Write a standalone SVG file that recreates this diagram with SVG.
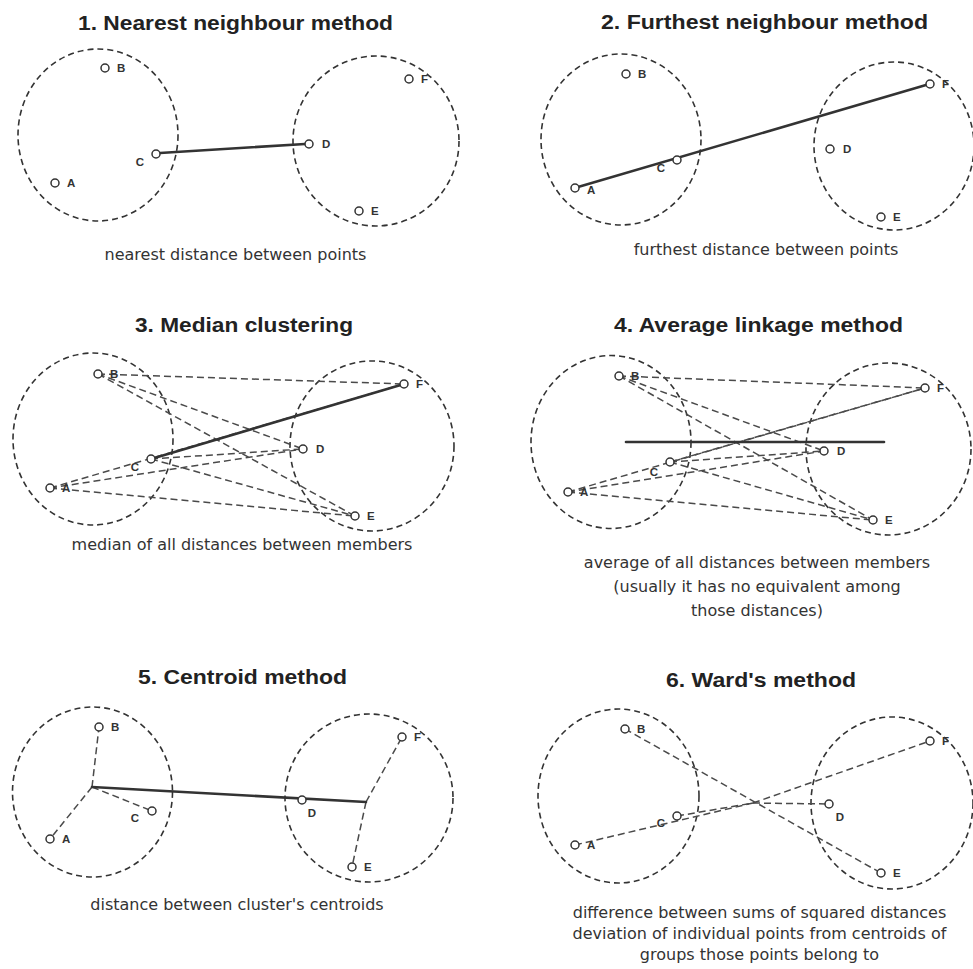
<svg xmlns="http://www.w3.org/2000/svg" width="973" height="969" viewBox="0 0 973 969">
<style>
.bg{fill:#ffffff}
.clu{fill:none;stroke:#333;stroke-width:1.6;stroke-dasharray:6 4}
.pt{fill:#fff;stroke:#333;stroke-width:1.5}
.lbl{font-family:"Liberation Sans",Arial,sans-serif;font-weight:bold;font-size:11.5px;fill:#333}
.solid{stroke:#333;stroke-width:2.6;fill:none;stroke-linecap:round}
.dash{stroke:#4a4a4a;stroke-width:1.5;fill:none;stroke-dasharray:7 4}
.title{font-family:"Liberation Sans",Arial,sans-serif;font-weight:bold;font-size:19.5px;fill:#222;text-anchor:middle}
.cap{font-family:"DejaVu Sans","Liberation Sans",sans-serif;font-size:16px;fill:#333;text-anchor:middle}
.mid{text-anchor:middle}
</style>
<rect class="bg" x="0" y="0" width="973" height="969"/>

<!-- Panel 1 -->
<g id="panel1">
<text class="title" x="235.5" y="30" textLength="315" lengthAdjust="spacingAndGlyphs">1. Nearest neighbour method</text>
<ellipse id="p1-cluster1" class="clu" cx="98" cy="135" rx="80" ry="86"/>
<ellipse id="p1-cluster2" class="clu" cx="376" cy="141" rx="83" ry="85"/>
<g id="p1-connectors">
<line class="solid" x1="160" y1="153" x2="305" y2="144"/>
</g>
<g id="p1-B"><circle class="pt" cx="105" cy="68" r="4"/><text class="lbl" x="117" y="72">B</text></g>
<g id="p1-F"><circle class="pt" cx="409" cy="79" r="4"/><text class="lbl" x="421" y="83">F</text></g>
<g id="p1-D"><circle class="pt" cx="309" cy="144" r="4"/><text class="lbl" x="322" y="148">D</text></g>
<g id="p1-C"><circle class="pt" cx="156" cy="154" r="4"/><text class="lbl mid" x="140" y="166">C</text></g>
<g id="p1-A"><circle class="pt" cx="55" cy="183" r="4"/><text class="lbl" x="67" y="187">A</text></g>
<g id="p1-E"><circle class="pt" cx="359" cy="211" r="4"/><text class="lbl" x="371" y="215">E</text></g>
<text class="cap" x="235.5" y="260">nearest distance between points</text>
</g>

<!-- Panel 2 -->
<g id="panel2">
<text class="title" x="764.5" y="29" textLength="327" lengthAdjust="spacingAndGlyphs">2. Furthest neighbour method</text>
<ellipse id="p2-cluster1" class="clu" cx="621" cy="139.5" rx="80" ry="85.5"/>
<ellipse id="p2-cluster2" class="clu" cx="894" cy="146" rx="80" ry="84"/>
<g id="p2-connectors">
<line class="solid" x1="578" y1="187" x2="926" y2="85"/>
</g>
<g id="p2-B"><circle class="pt" cx="626" cy="74" r="4"/><text class="lbl" x="638" y="78">B</text></g>
<g id="p2-F"><circle class="pt" cx="930" cy="84" r="4"/><text class="lbl" x="942" y="88">F</text></g>
<g id="p2-D"><circle class="pt" cx="830" cy="149" r="4"/><text class="lbl" x="843" y="153">D</text></g>
<g id="p2-C"><circle class="pt" cx="677" cy="160" r="4"/><text class="lbl mid" x="661" y="172">C</text></g>
<g id="p2-A"><circle class="pt" cx="575" cy="188" r="4"/><text class="lbl" x="587" y="194">A</text></g>
<g id="p2-E"><circle class="pt" cx="881" cy="217" r="4"/><text class="lbl" x="893" y="221">E</text></g>
<text class="cap" x="766" y="255">furthest distance between points</text>
</g>

<!-- Panel 3 -->
<g id="panel3">
<text class="title" x="244" y="332" textLength="218" lengthAdjust="spacingAndGlyphs">3. Median clustering</text>
<ellipse id="p3-cluster1" class="clu" cx="93" cy="439" rx="80" ry="86"/>
<ellipse id="p3-cluster2" class="clu" cx="372" cy="446" rx="82" ry="85"/>
<g id="p3-connectors">
<line class="dash" x1="98" y1="374" x2="404" y2="384"/>
<line class="dash" x1="98" y1="374" x2="303" y2="449"/>
<line class="dash" x1="98" y1="374" x2="355" y2="516"/>
<line class="dash" x1="50" y1="488" x2="303" y2="449"/>
<line class="dash" x1="50" y1="488" x2="355" y2="516"/>
<line class="dash" x1="50" y1="488" x2="404" y2="384"/>
<line class="dash" x1="151" y1="459" x2="303" y2="449"/>
<line class="dash" x1="151" y1="459" x2="355" y2="516"/>
<line class="solid" x1="151" y1="459" x2="404" y2="384"/>
</g>
<g id="p3-B"><circle class="pt" cx="98" cy="374" r="4"/><text class="lbl" x="110" y="378">B</text></g>
<g id="p3-F"><circle class="pt" cx="404" cy="384" r="4"/><text class="lbl" x="416" y="388">F</text></g>
<g id="p3-D"><circle class="pt" cx="303" cy="449" r="4"/><text class="lbl" x="316" y="453">D</text></g>
<g id="p3-C"><circle class="pt" cx="151" cy="459" r="4"/><text class="lbl mid" x="135" y="471">C</text></g>
<g id="p3-A"><circle class="pt" cx="50" cy="488" r="4"/><text class="lbl" x="62" y="492">A</text></g>
<g id="p3-E"><circle class="pt" cx="355" cy="516" r="4"/><text class="lbl" x="367" y="520">E</text></g>
<text class="cap" x="242" y="550">median of all distances between members</text>
</g>

<!-- Panel 4 -->
<g id="panel4">
<text class="title" x="758.5" y="332" textLength="289" lengthAdjust="spacingAndGlyphs">4. Average linkage method</text>
<ellipse id="p4-cluster1" class="clu" cx="611" cy="442" rx="80" ry="86.5"/>
<ellipse id="p4-cluster2" class="clu" cx="888.5" cy="449" rx="82.5" ry="86"/>
<g id="p4-connectors">
<line class="dash" x1="619" y1="376" x2="925" y2="388"/>
<line class="dash" x1="619" y1="376" x2="824" y2="451"/>
<line class="dash" x1="619" y1="376" x2="873" y2="520"/>
<line class="dash" x1="568" y1="492" x2="925" y2="388"/>
<line class="dash" x1="568" y1="492" x2="824" y2="451"/>
<line class="dash" x1="568" y1="492" x2="873" y2="520"/>
<line class="dash" x1="670" y1="462" x2="925" y2="388"/>
<line class="dash" x1="670" y1="462" x2="824" y2="451"/>
<line class="dash" x1="670" y1="462" x2="873" y2="520"/>
<line class="solid" x1="626" y1="442" x2="884" y2="442"/>
</g>
<g id="p4-B"><circle class="pt" cx="619" cy="376" r="4"/><text class="lbl" x="631" y="380">B</text></g>
<g id="p4-F"><circle class="pt" cx="925" cy="388" r="4"/><text class="lbl" x="937" y="392">F</text></g>
<g id="p4-D"><circle class="pt" cx="824" cy="451" r="4"/><text class="lbl" x="837" y="455">D</text></g>
<g id="p4-C"><circle class="pt" cx="670" cy="462" r="4"/><text class="lbl mid" x="654" y="476">C</text></g>
<g id="p4-A"><circle class="pt" cx="568" cy="492" r="4"/><text class="lbl" x="580" y="496">A</text></g>
<g id="p4-E"><circle class="pt" cx="873" cy="520" r="4"/><text class="lbl" x="885" y="524">E</text></g>
<text class="cap" x="757" y="568">average of all distances between members</text>
<text class="cap" x="757" y="592">(usually it has no equivalent among</text>
<text class="cap" x="757" y="616">those distances)</text>
</g>

<!-- Panel 5 -->
<g id="panel5">
<text class="title" x="242.5" y="684" textLength="209" lengthAdjust="spacingAndGlyphs">5. Centroid method</text>
<ellipse id="p5-cluster1" class="clu" cx="92.5" cy="792" rx="80" ry="85"/>
<ellipse id="p5-cluster2" class="clu" cx="369" cy="798" rx="84" ry="84"/>
<g id="p5-connectors">
<line class="dash" x1="92" y1="787" x2="99" y2="727"/>
<line class="dash" x1="92" y1="787" x2="50" y2="839"/>
<line class="dash" x1="92" y1="787" x2="152" y2="811"/>
<line class="dash" x1="366" y1="802" x2="402" y2="737"/>
<line class="dash" x1="366" y1="802" x2="352" y2="867"/>
<line class="solid" x1="92" y1="787" x2="366" y2="802"/>
</g>
<g id="p5-B"><circle class="pt" cx="99" cy="727" r="4"/><text class="lbl" x="111" y="731">B</text></g>
<g id="p5-F"><circle class="pt" cx="402" cy="737" r="4"/><text class="lbl" x="414" y="741">F</text></g>
<g id="p5-D"><circle class="pt" cx="302" cy="800" r="4"/><text class="lbl mid" x="312" y="817">D</text></g>
<g id="p5-C"><circle class="pt" cx="152" cy="811" r="4"/><text class="lbl mid" x="135" y="822">C</text></g>
<g id="p5-A"><circle class="pt" cx="50" cy="839" r="4"/><text class="lbl" x="62" y="843">A</text></g>
<g id="p5-E"><circle class="pt" cx="352" cy="867" r="4"/><text class="lbl" x="364" y="871">E</text></g>
<text class="cap" x="237" y="910">distance between cluster's centroids</text>
</g>

<!-- Panel 6 -->
<g id="panel6">
<text class="title" x="761" y="687" textLength="190" lengthAdjust="spacingAndGlyphs">6. Ward's method</text>
<ellipse id="p6-cluster1" class="clu" cx="618.5" cy="796" rx="80.5" ry="87"/>
<ellipse id="p6-cluster2" class="clu" cx="892" cy="803" rx="81" ry="86"/>
<g id="p6-connectors">
<line class="dash" x1="575" y1="845" x2="753" y2="803"/>
<line class="dash" x1="677" y1="816" x2="753" y2="803"/>
<line class="dash" x1="753" y1="803" x2="829" y2="804"/>
<line class="dash" x1="753" y1="803" x2="930" y2="741"/>
<line class="dash" x1="625" y1="729" x2="881" y2="873"/>
</g>
<g id="p6-B"><circle class="pt" cx="625" cy="729" r="4"/><text class="lbl" x="637" y="733">B</text></g>
<g id="p6-F"><circle class="pt" cx="930" cy="741" r="4"/><text class="lbl" x="942" y="745">F</text></g>
<g id="p6-D"><circle class="pt" cx="829" cy="804" r="4"/><text class="lbl mid" x="840" y="821">D</text></g>
<g id="p6-C"><circle class="pt" cx="677" cy="816" r="4"/><text class="lbl mid" x="661" y="827">C</text></g>
<g id="p6-A"><circle class="pt" cx="575" cy="845" r="4"/><text class="lbl" x="587" y="849">A</text></g>
<g id="p6-E"><circle class="pt" cx="881" cy="873" r="4"/><text class="lbl" x="893" y="877">E</text></g>
<text class="cap" x="759.5" y="918">difference between sums of squared distances</text>
<text class="cap" x="759.5" y="939">deviation of individual points from centroids of</text>
<text class="cap" x="759.5" y="960">groups those points belong to</text>
</g>
</svg>
